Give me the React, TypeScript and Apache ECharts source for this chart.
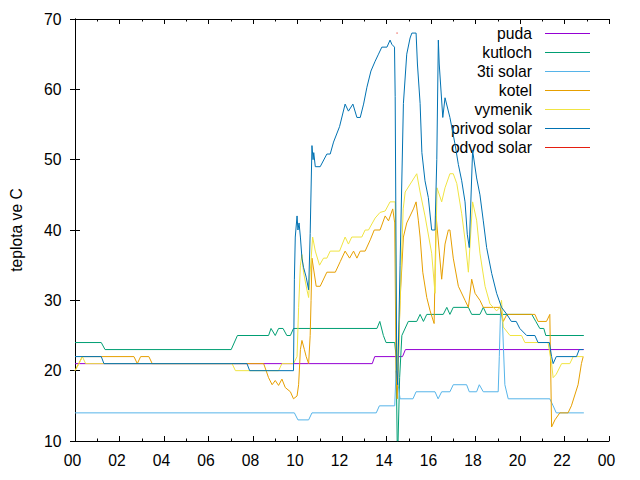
import React, { useEffect, useRef } from "react";
import * as echarts from "echarts";

const seriesNames = ["puda", "kutloch", "3ti solar", "kotel", "vymenik", "privod solar", "odvod solar"];
const seriesColors = ["#9400d3", "#009e73", "#56b4e9", "#e69f00", "#f0e442", "#0072b2", "#e51e10"];

const pudaData: [number, number][] = [
  [0, 21], [13.36, 21], [13.47, 22], [14.72, 22], [14.85, 23], [22.87, 23],
];

const kutlochData: [number, number][] = [
  [0, 24], [1.18, 24], [1.35, 23], [7.02, 23], [7.3, 25], [8.7, 25], [8.81, 26], [9.0, 25], [9.15, 26],
  [9.35, 26], [9.52, 25], [9.68, 25], [9.82, 26], [13.57, 26], [13.7, 27], [13.86, 25], [13.98, 24],
  [14.37, 24], [14.43, 22], [14.48, 10], [14.52, 10], [14.59, 19], [14.69, 25], [14.98, 27], [15.36, 27],
  [15.51, 28], [15.66, 27], [15.81, 28], [16.55, 28], [16.71, 29], [16.85, 28], [17.0, 29], [17.68, 29],
  [17.83, 28], [18.2, 28], [18.35, 29], [18.5, 28], [20.53, 28], [20.71, 27], [20.89, 26], [21.07, 26],
  [21.16, 25], [22.87, 25],
];

const tretiSolarData: [number, number][] = [
  [0, 14], [9.86, 14], [10.02, 13], [10.5, 13], [10.65, 14], [13.54, 14], [13.68, 15], [14.37, 15],
  [14.43, 20], [14.48, 19], [14.61, 16], [15.19, 16], [15.33, 17], [16.18, 17], [16.32, 16], [16.48, 17],
  [16.85, 17], [17.0, 18], [17.6, 18], [17.72, 17], [18.05, 17], [18.17, 18], [18.35, 17], [19.02, 17],
  [19.07, 22], [19.13, 29], [19.21, 27], [19.32, 18], [19.47, 16], [21.34, 16], [21.49, 15], [21.63, 14],
  [22.87, 14],
];

const kotelData: [number, number][] = [
  [0, 20], [0.33, 22], [2.65, 22], [2.8, 21], [2.95, 22], [3.32, 22], [3.47, 21], [8.48, 21], [8.7, 19],
  [8.86, 18], [9.0, 18.6], [9.15, 17.9], [9.3, 18.8], [9.45, 17.6], [9.68, 17], [9.82, 16], [9.98, 16.4],
  [10.05, 18], [10.13, 23], [10.2, 24.3], [10.31, 23], [10.39, 22], [10.5, 21], [10.57, 25], [10.61, 30],
  [10.65, 36], [10.84, 32], [11.02, 32], [11.32, 34], [11.7, 34], [11.92, 35.5], [12.14, 37], [12.34, 36],
  [12.52, 37], [12.67, 36], [12.82, 37], [13.04, 37], [13.27, 38.6], [13.45, 40], [13.71, 40], [13.94, 42],
  [14.09, 41.3], [14.28, 43], [14.37, 41], [14.43, 20], [14.48, 16], [14.54, 22], [14.61, 30], [14.76, 39],
  [14.91, 41], [15.21, 43], [15.33, 44], [15.43, 41.4], [15.51, 39], [15.63, 34], [15.81, 30.4],
  [15.96, 28.5], [16.14, 26.7], [16.23, 42], [16.48, 33], [16.63, 38], [16.78, 40], [16.85, 40], [17.0, 36],
  [17.23, 32], [17.53, 30], [17.68, 29], [17.83, 33], [17.98, 31], [18.2, 30], [18.35, 29], [19.1, 29],
  [19.25, 27], [19.41, 28], [20.67, 28], [20.81, 27], [21.19, 27], [21.34, 28], [21.42, 12], [21.57, 13],
  [21.79, 14], [22.16, 14], [22.31, 15], [22.61, 18], [22.76, 21], [22.84, 22],
];

const vymenikData: [number, number][] = [
  [0, 20], [0.18, 21], [0.33, 22], [0.48, 21], [7.06, 21], [7.21, 20], [9.15, 20], [9.3, 21], [9.82, 21],
  [9.98, 22], [10.05, 29], [10.13, 35], [10.2, 36.5], [10.27, 34], [10.43, 31.4], [10.5, 30.4], [10.57, 34],
  [10.68, 39], [10.8, 37], [10.99, 35], [11.17, 36], [11.32, 36], [11.47, 37], [11.89, 37], [12.14, 39],
  [12.29, 38], [12.44, 39], [12.89, 39], [13.04, 40], [13.19, 40], [13.49, 41.7], [13.71, 42.5],
  [13.94, 42.7], [14.16, 44], [14.39, 44], [14.45, 25], [14.52, 20], [14.61, 30], [14.75, 43], [14.84, 45.4],
  [15.36, 48], [15.51, 45.4], [15.73, 42], [16.03, 36.7], [16.18, 31], [16.27, 46], [16.48, 44], [16.63, 46],
  [16.85, 48], [17.0, 48], [17.16, 46.6], [17.38, 42.3], [17.53, 38.6], [17.68, 34], [17.87, 44],
  [18.05, 41.4], [18.2, 36.7], [18.43, 32], [18.65, 29.5], [18.95, 28.5], [19.1, 29], [19.17, 30],
  [19.25, 26.2], [19.55, 25], [20.07, 25], [20.22, 24], [21.26, 24], [21.42, 21], [21.49, 19], [21.63, 19.5],
  [21.87, 21], [22.24, 21], [22.39, 22], [22.84, 22],
];

const privodSolarData: [number, number][] = [
  [0, 22], [1.18, 22], [1.3, 21], [7.73, 21], [7.85, 20], [9.82, 20], [9.86, 33], [9.9, 39], [9.98, 42],
  [10.02, 40], [10.07, 41], [10.13, 39], [10.2, 36], [10.27, 34.7], [10.39, 33.3], [10.5, 31.5],
  [10.57, 39.5], [10.65, 52], [10.7, 50], [10.73, 51], [10.8, 49], [11.02, 49], [11.32, 50.8], [11.47, 50.8],
  [11.62, 52.5], [11.89, 54.7], [12.14, 57.9], [12.29, 56.9], [12.49, 57.9], [12.67, 56], [12.82, 56],
  [12.97, 57.9], [13.12, 60.3], [13.3, 62.6], [13.49, 64], [13.64, 65], [13.79, 66], [14.02, 66], [14.16, 67],
  [14.24, 66.4], [14.36, 66], [14.39, 59], [14.46, 20], [14.5, 18], [14.61, 35], [14.76, 58], [14.91, 65],
  [15.06, 67.3], [15.14, 68], [15.33, 68], [15.39, 63.6], [15.51, 58], [15.59, 51], [15.73, 47],
  [15.88, 44.6], [16.03, 40], [16.18, 40], [16.26, 50], [16.33, 67], [16.37, 63.6], [16.53, 56],
  [16.63, 58.8], [16.85, 56], [17.08, 52.2], [17.23, 49.3], [17.38, 47], [17.53, 44], [17.63, 39.4],
  [17.72, 37.5], [17.87, 51.3], [18.05, 47.4], [18.2, 45], [18.35, 41.3], [18.5, 37.5], [18.73, 33.8],
  [18.95, 31], [19.17, 29], [19.41, 28], [19.61, 27], [19.83, 27], [19.99, 26], [20.3, 25], [20.67, 25],
  [20.81, 24], [21.32, 24], [21.42, 22], [21.49, 21], [21.63, 22], [22.54, 22], [22.66, 23], [22.84, 23],
];

const odvodSolarData: [number, number][] = [
  [14.45, 68], [14.5, 68],
];

const allData = [pudaData, kutlochData, tretiSolarData, kotelData, vymenikData, privodSolarData, odvodSolarData];

const FONT = "Liberation Sans, Arial, sans-serif";
const FS = 15.7;

function hourLabel(v: number): string {
  const h = Math.round(v) % 24;
  return (h < 10 ? "0" : "") + h;
}

export default function App() {
  const ref = useRef<HTMLDivElement>(null);
  useEffect(() => {
    if (!ref.current) return;
    const chart = echarts.init(ref.current, undefined, { renderer: "svg" });
    const axisLine = { show: true, lineStyle: { color: "#000", width: 1 } };
    const xBase = {
      type: "value" as const,
      min: 0,
      max: 24,
      interval: 2,
      axisLine,
      splitLine: { show: false },
      axisTick: { show: true, inside: true, length: 5, lineStyle: { color: "#000" } },
      minorTick: { show: true, splitNumber: 2, length: 2.5, lineStyle: { color: "#000" } },
    };
    const yBase = {
      type: "value" as const,
      min: 10,
      max: 70,
      interval: 10,
      axisLine,
      splitLine: { show: false },
      axisTick: { show: true, inside: true, length: 5, lineStyle: { color: "#000" } },
    };
    const legendTop = 33.3;
    const legendStep = 19;
    const graphics: any[] = [];
    seriesNames.forEach((name, i) => {
      const y = legendTop + legendStep * i;
      graphics.push({
        type: "text",
        x: 532,
        y,
        style: {
          text: name,
          fontSize: FS,
          fontFamily: FONT,
          fill: "#000",
          align: "right",
          verticalAlign: "middle",
        },
      });
      const ly = Math.round(y) + 0.5;
      graphics.push({
        type: "line",
        shape: { x1: 545, y1: ly, x2: 590, y2: ly },
        style: { stroke: seriesColors[i], lineWidth: 1 },
      });
    });
    chart.setOption({
      animation: false,
      backgroundColor: "#fff",
      textStyle: { fontFamily: FONT },
      grid: { left: 74, right: 31, top: 19, bottom: 39, containLabel: false },
      xAxis: [
        {
          ...xBase,
          position: "bottom",
          axisLabel: {
            show: true,
            color: "#000",
            fontSize: FS,
            fontFamily: FONT,
            margin: 11,
            padding: [0, 5, 0, 0],
            formatter: hourLabel,
          },
        },
        { ...xBase, position: "top", axisLabel: { show: false } },
      ],
      yAxis: [
        {
          ...yBase,
          position: "left",
          name: "teplota ve C",
          nameLocation: "middle",
          nameGap: 51,
          nameTextStyle: { color: "#000", fontSize: FS, fontFamily: FONT },
          axisLabel: { show: true, color: "#000", fontSize: FS, fontFamily: FONT, margin: 13.5 },
        },
        { ...yBase, position: "right", axisLabel: { show: false } },
      ],
      graphic: graphics,
      series: seriesNames.map((name, i) => ({
        name,
        type: "line",
        xAxisIndex: 0,
        yAxisIndex: 0,
        data: allData[i],
        symbol: "none",
        showSymbol: false,
        clip: true,
        lineStyle: { color: seriesColors[i], width: 1 },
        itemStyle: { color: seriesColors[i] },
      })),
    });
    return () => chart.dispose();
  }, []);
  return (
    <div
      ref={ref}
      style={{ position: "fixed", left: 0, top: 0, width: 640, height: 480, background: "#fff" }}
    />
  );
}
